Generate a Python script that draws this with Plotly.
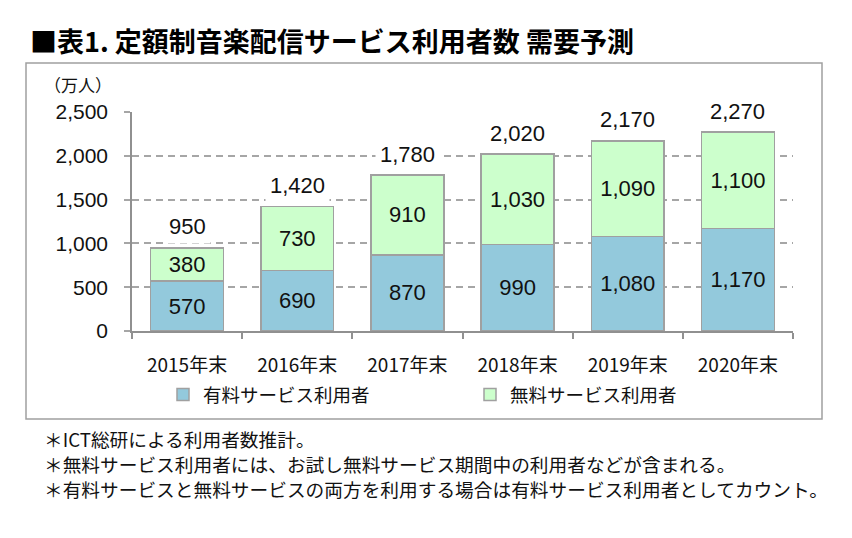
import plotly.graph_objects as go

categories = ["2015年末", "2016年末", "2017年末", "2018年末", "2019年末", "2020年末"]
paid_users = [570, 690, 870, 990, 1080, 1170]
free_users = [380, 730, 910, 1030, 1090, 1100]
totals = [950, 1420, 1780, 2020, 2170, 2270]
y_ticks = [0, 500, 1000, 1500, 2000, 2500]
y_tick_labels = ["0", "500", "1,000", "1,500", "2,000", "2,500"]

title_text = "■表1. 定額制音楽配信サービス利用者数 需要予測"
unit_text = "（万人）"
notes = [
    "＊ICT総研による利用者数推計。",
    "＊無料サービス利用者には、お試し無料サービス期間中の利用者などが含まれる。",
    "＊有料サービスと無料サービスの両方を利用する場合は有料サービス利用者としてカウント。",
]

OFF = 8  # page body margin
W, H = 852 - OFF, 538 - OFF
L, R, T, B = 132 - OFF, 793 - OFF, 112 - OFF, 331 - OFF  # plot area in figure px


def px_x(p):
    return (p - OFF - L) / (R - L)


def px_y(p):
    return (B - (p - OFF)) / (B - T)


NUM_FONT = "Liberation Sans, Arial, Noto Sans CJK JP"
JP_FONT = "Noto Sans CJK JP"

fig = go.Figure()
fig.add_trace(go.Bar(
    name="有料サービス利用者", x=categories, y=paid_users,
    marker=dict(color="#93C9DC", line=dict(color="#A0A0A0", width=1.5)),
    text=[f"{v:,}" for v in paid_users], textposition="inside",
    insidetextanchor="middle", textangle=0,
    textfont=dict(family=NUM_FONT, size=22, color="#111"),
    width=0.66,
))
fig.add_trace(go.Bar(
    name="無料サービス利用者", x=categories, y=free_users,
    marker=dict(color="#CCFFCC", line=dict(color="#A0A0A0", width=1.5)),
    text=[f"{v:,}" for v in free_users], textposition="inside",
    insidetextanchor="middle", textangle=0,
    textfont=dict(family=NUM_FONT, size=22, color="#111"),
    width=0.66,
))

annotations = []
for c, t in zip(categories, totals):
    annotations.append(dict(
        x=c, y=t, xref="x", yref="y", text=f"{t:,}", showarrow=False,
        yanchor="middle", yshift=21, bgcolor="white", borderpad=4,
        font=dict(family=NUM_FONT, size=22, color="#111"),
    ))

annotations.append(dict(
    x=px_x(28), y=px_y(40), xref="paper", yref="paper", text=f"<b>{title_text}</b>",
    showarrow=False, xanchor="left", yanchor="middle",
    font=dict(family=JP_FONT, size=27, color="#000"),
))
annotations.append(dict(
    x=px_x(78), y=px_y(85), xref="paper", yref="paper", text=unit_text,
    showarrow=False, xanchor="center", yanchor="middle",
    font=dict(family=JP_FONT, size=17, color="#111"),
))
for n, yy in zip(notes, [438, 463, 488]):
    annotations.append(dict(
        x=px_x(42), y=px_y(yy), xref="paper", yref="paper", text=n,
        showarrow=False, xanchor="left", yanchor="middle",
        font=dict(family=JP_FONT, size=18.7, color="#111"),
    ))

shapes = [dict(
    type="rect", xref="paper", yref="paper",
    x0=px_x(26), x1=px_x(822), y0=px_y(419), y1=px_y(63),
    line=dict(color="#A0A0A0", width=1.5), fillcolor="rgba(0,0,0,0)", layer="below",
)]

fig.update_layout(
    width=W, height=H,
    margin=dict(l=L, r=W - R, t=T, b=H - B, pad=0),
    paper_bgcolor="white", plot_bgcolor="white",
    barmode="stack",
    showlegend=True,
    legend=dict(
        orientation="h", x=px_x(163), y=px_y(395), xanchor="left", yanchor="middle",
        font=dict(family=JP_FONT, size=18.5, color="#111"),
        entrywidth=262, entrywidthmode="pixels",
        traceorder="normal", bgcolor="rgba(0,0,0,0)",
    ),
    annotations=annotations,
    shapes=shapes,
    xaxis=dict(
        type="category", showline=True, linecolor="#909090", linewidth=1.5,
        ticks="outside", tickson="boundaries", ticklen=6, tickcolor="#909090", tickwidth=1.5,
        tickfont=dict(family=JP_FONT, size=19, color="#111"),
        ticklabelstandoff=16, showgrid=False,
        range=[-0.5, 5.5],
    ),
    yaxis=dict(
        range=[0, 2500], tickvals=y_ticks, ticktext=y_tick_labels,
        showline=True, linecolor="#909090", linewidth=1.5,
        ticks="outside", ticklen=6, tickcolor="#A6A6A6", tickwidth=1.5,
        showgrid=True, gridcolor="#A6A6A6", gridwidth=1.5, griddash="7px,5px",
        zeroline=False,
        tickfont=dict(family=NUM_FONT, size=21, color="#111"),
        ticklabelstandoff=12,
    ),
    bargap=0.34,
)

fig.write_html("out.html")
